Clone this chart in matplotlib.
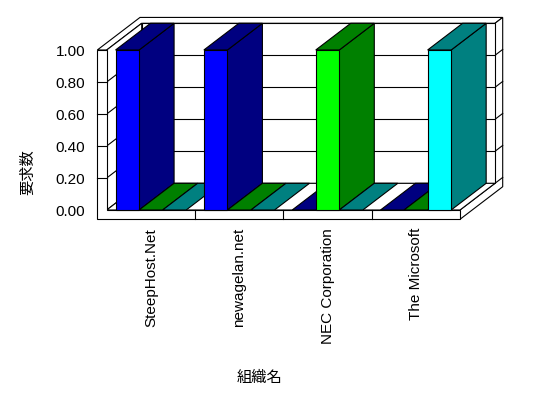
import matplotlib
matplotlib.use("Agg")
import matplotlib.pyplot as plt
from matplotlib.patches import Polygon

plt.rcParams['font.family'] = ['Liberation Sans', 'Noto Sans CJK JP']
plt.rcParams['font.size'] = 11

# data
categories = ['SteepHost.Net', 'newagelan.net', 'NEC Corporation', 'The Microsoft']
series1 = [1.0, 1.0, 0.0, 0.0]
series2 = [0.0, 0.0, 1.0, 0.0]
series3 = [0.0, 0.0, 0.0, 1.0]
yticks = [0.0, 0.2, 0.4, 0.6, 0.8, 1.0]
ytick_labels = ['0.00', '0.20', '0.40', '0.60', '0.80', '1.00']

front_colors = ['#0000ff', '#00ff00', '#00ffff']
dark_colors = ['#000080', '#008000', '#008080']

# 3d look: depth offset and wall thickness in data units
DX = 35 / 88.33
DY = 26.7 / 160
WX = 9.4 / 88.33
FY = 9.3 / 160
T = 0.22
LW = 0.8

W, H = 548, 398
fig = plt.figure(figsize=(W / 100, H / 100), dpi=100)
ax = fig.add_axes([106.7 / W, 188 / H, 353.3 / W, 160 / H])
n = len(categories)
ax.set_xlim(0, n)
ax.set_ylim(0, 1)


def P(x, y, z):
    return (x + z * DX, y + z * DY)


def face(pts, fc='white'):
    ax.add_patch(Polygon([P(*p) for p in pts], closed=True, facecolor=fc,
                         edgecolor='black', lw=LW, clip_on=False,
                         joinstyle='miter', zorder=1))


def line(p1, p2):
    a, b = P(*p1), P(*p2)
    ax.plot([a[0], b[0]], [a[1], b[1]], color='black', lw=LW,
            clip_on=False, zorder=1)


# top of left wall + back wall
face([(-WX, 1, 0), (0, 1, 0), (0, 1, 1), (n, 1, 1), (n, 1, 1 + T), (-WX, 1, 1 + T)])
# right end of floor + back wall
face([(n, -FY, 0), (n, 0, 0), (n, 0, 1), (n, 1, 1), (n, 1, 1 + T), (n, -FY, 1 + T)])
for g in yticks[:-1]:
    line((n, g, 1), (n, g, 1 + T))
# back wall
face([(0, 0, 1), (n, 0, 1), (n, 1, 1), (0, 1, 1)])
# left wall inside
face([(0, 0, 0), (0, 0, 1), (0, 1, 1), (0, 1, 0)])
# floor
face([(0, 0, 0), (n, 0, 0), (n, 0, 1), (0, 0, 1)])
for g in yticks[1:-1]:
    line((0, g, 1), (n, g, 1))
    line((0, g, 0), (0, g, 1))
# front of left wall + floor
face([(-WX, -FY, 0), (n, -FY, 0), (n, 0, 0), (0, 0, 0), (0, 1, 0), (-WX, 1, 0)])
for g in yticks[1:-1]:
    line((-WX, g, 0), (0, g, 0))
for i in range(1, n):
    line((i, -FY, 0), (i, 0, 0))

# bars
series = [series1, series2, series3]
bw = 0.8 / len(series)
for c in range(n):
    for s, vals in enumerate(series):
        x0 = c + 0.1 + s * bw
        x1 = x0 + bw
        h = vals[c]
        if h > 0:
            face([(x1, 0, 0), (x1, 0, 1), (x1, h, 1), (x1, h, 0)], dark_colors[s])
        face([(x0, h, 0), (x1, h, 0), (x1, h, 1), (x0, h, 1)], dark_colors[s])
        if h > 0:
            face([(x0, 0, 0), (x1, 0, 0), (x1, h, 0), (x0, h, 0)], front_colors[s])

ax.set_frame_on(False)
ax.set_yticks(yticks)
ax.set_yticklabels(ytick_labels)
ax.set_xticks([i + 0.5 for i in range(n)])
ax.set_xticklabels(categories, rotation=90)
ax.tick_params(axis='y', length=0, pad=15.6)
ax.tick_params(axis='x', length=0, pad=13)

fig.text(28 / W, 1 - 172 / H, '要求数', rotation=90, ha='center', va='center')
fig.text(260 / W, 1 - 378 / H, '組織名', ha='center', va='center')

fig.savefig('out.png', dpi=100, facecolor='white')
